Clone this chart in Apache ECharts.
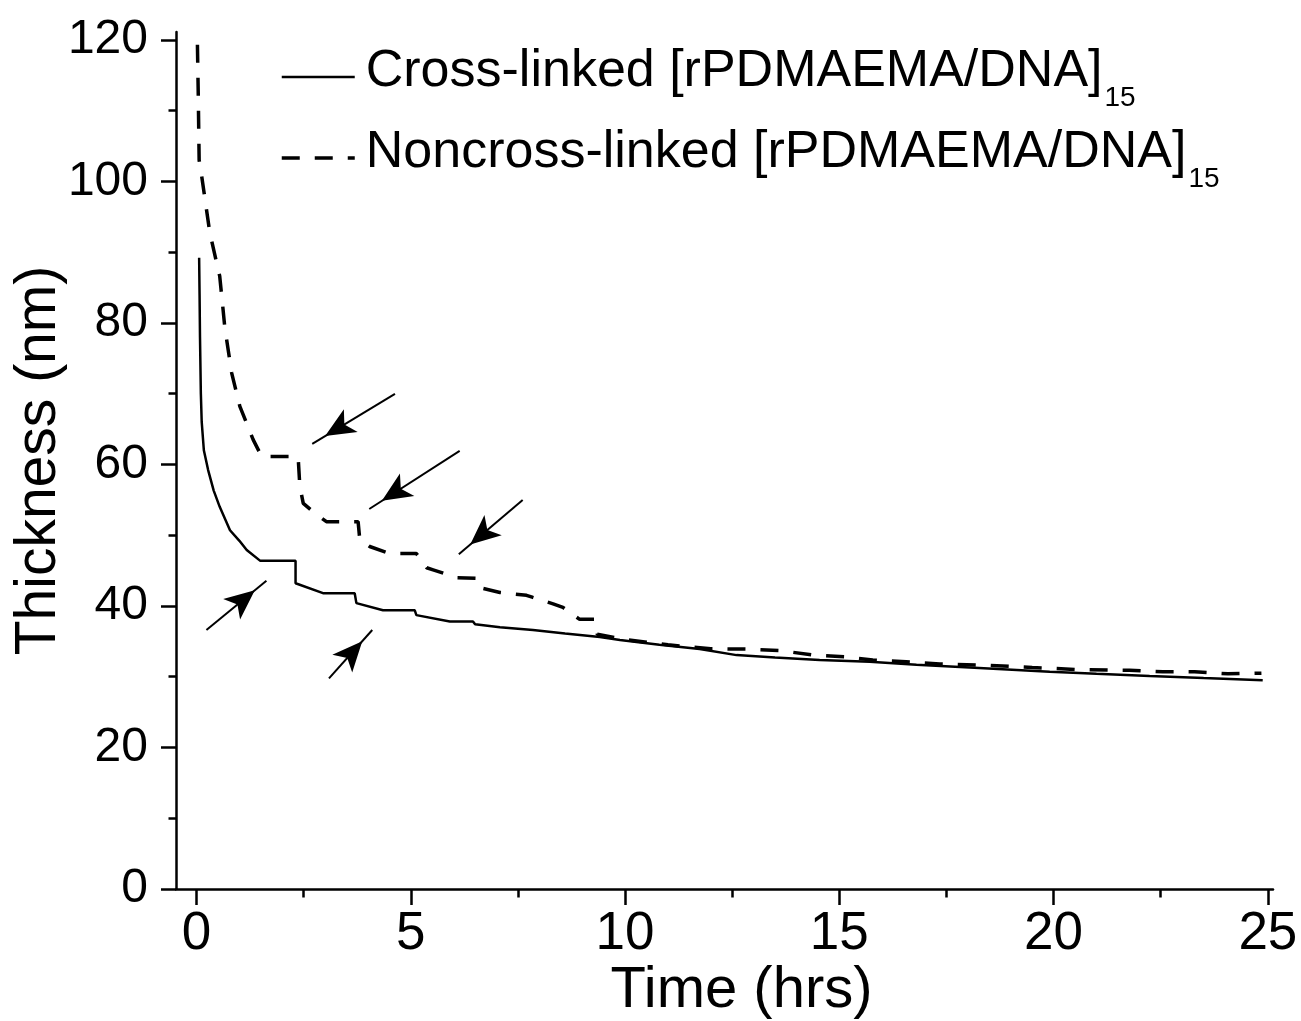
<!DOCTYPE html>
<html>
<head>
<meta charset="utf-8">
<title>Thickness vs time</title>
<script src="https://cdn.jsdelivr.net/npm/echarts@6/dist/echarts.min.js"></script>
<style>
  html, body { margin: 0; padding: 0; background: #fff; }
  #chart { width: 1301px; height: 1021px; }
</style>
</head>
<body>
<div id="chart"></div>
<script>
// cross-linked film (solid)
const crossTime = [0.06, 0.07, 0.08, 0.10, 0.12, 0.17, 0.27, 0.40, 0.54, 0.78, 1.0, 1.17, 1.48, 2.31, 2.31, 2.95, 3.69, 3.73, 4.35, 5.09, 5.13, 5.91, 6.45, 6.50, 7.08, 7.85, 8.6, 9.41, 9.88, 10.8, 11.74, 12.6, 13.5, 14.54, 15.71, 16.8, 18.04, 19.91, 21.0, 22.24, 23.5, 24.88];
const crossThick = [89.2, 84, 78, 70, 66, 62, 59.2, 56.3, 54.0, 50.7, 49.2, 47.9, 46.4, 46.4, 43.2, 41.8, 41.8, 40.4, 39.4, 39.4, 38.7, 37.8, 37.8, 37.4, 37.0, 36.6, 36.1, 35.6, 35.2, 34.5, 33.9, 33.05, 32.7, 32.35, 32.1, 31.7, 31.3, 30.7, 30.4, 30.1, 29.8, 29.5];

// noncross-linked film (dashed)
const noncrossTime = [0.02, 0.04, 0.06, 0.12, 0.31, 0.54, 0.60, 0.66, 0.82, 1.01, 1.32, 1.52, 2.37, 2.41, 2.49, 2.72, 3.03, 3.77, 3.81, 4.04, 4.51, 5.13, 5.37, 5.52, 6.07, 6.53, 6.59, 7.08, 7.7, 7.85, 8.32, 8.55, 8.94, 9.29, 9.35, 10.0, 11.0, 12.0, 12.83, 13.61, 14.39, 15.16, 15.78, 16.56, 17.34, 18.5, 19.5, 20.6, 21.77, 22.55, 23.29, 24.07, 24.85];
const noncrossThick = [119.3, 112, 103, 100.7, 92.7, 86.6, 83, 79.3, 72.9, 68.2, 63.5, 61.1, 61.1, 56.9, 54.5, 53.3, 51.9, 51.9, 49.3, 48.4, 47.4, 47.4, 45.4, 45.1, 44.0, 43.9, 42.6, 41.9, 41.5, 41.2, 40.3, 39.8, 38.1, 38.1, 36.0, 35.25, 34.5, 33.95, 33.9, 33.7, 33.05, 32.8, 32.35, 32.1, 31.8, 31.6, 31.3, 31.0, 30.9, 30.7, 30.7, 30.4, 30.5];

// ticks
const xTicks = [0, 5, 10, 15, 20, 25];
const xMinorTicks = [2.5, 7.5, 12.5, 17.5, 22.5];
const yTicks = [0, 20, 40, 60, 80, 100, 120];
const yMinorTicks = [10, 30, 50, 70, 90, 110];

// arrows (tail -> tip, data coords)
const arrowFrom = [[4.63, 69.97], [6.14, 61.9], [7.61, 54.98], [0.23, 36.6], [3.09, 29.76]];
const arrowTo = [[2.70, 62.9], [4.03, 53.7], [6.12, 47.3], [1.63, 43.56], [4.10, 36.6]];

const seriesNames = ['Cross-linked [rPDMAEMA/DNA]', 'Noncross-linked [rPDMAEMA/DNA]'];

const FONT = "'Liberation Sans', Arial, sans-serif";

const zip = (xs, ys) => xs.map((x, i) => [x, ys[i]]);

const chart = echarts.init(document.getElementById('chart'));

const axisLine = { show: true, onZero: false, lineStyle: { color: '#000', width: 2.5 } };
const solidStyle = { color: '#000', width: 2.5, type: 'solid' };
const dashStyle = { color: '#000', width: 3.5, type: [18, 15] };

const option = {
  backgroundColor: '#fff',
  animation: false,
  textStyle: { fontFamily: FONT, color: '#000' },
  grid: { left: 176, right: 28, top: 32, bottom: 132, outerBoundsMode: 'none' },
  legend: {
    orient: 'vertical',
    left: 280,
    top: 42,
    padding: 0,
    itemGap: 11,
    itemWidth: 73,
    itemHeight: 14,
    selectedMode: false,
    // hide the symbol dot, keep the line
    itemStyle: { color: 'rgba(0,0,0,0)', opacity: 0, borderWidth: 0 },
    data: [
      { name: seriesNames[0], lineStyle: solidStyle },
      { name: seriesNames[1], lineStyle: dashStyle }
    ],
    formatter: (name) => '{a|' + name + '}{s|15}',
    textStyle: {
      rich: {
        a: { fontSize: 52, lineHeight: 60, padding: [0, 0, 10, 6], color: '#000', fontFamily: FONT },
        s: { fontSize: 28, lineHeight: 28, padding: [42, 0, 0, 2], color: '#000', fontFamily: FONT }
      }
    }
  },
  xAxis: [
    {
      type: 'value',
      min: -0.48,
      max: 25.12,
      position: 'bottom',
      axisLine: axisLine,
      axisTick: { customValues: xTicks, length: 16, lineStyle: { color: '#000', width: 2.5 } },
      axisLabel: { customValues: xTicks, fontSize: 53, margin: 19, color: '#000', fontFamily: FONT },
      splitLine: { show: false },
      name: 'Time (hrs)',
      nameLocation: 'middle',
      nameGap: 73,
      nameMoveOverlap: false,
      nameTextStyle: { fontSize: 58, color: '#000', fontFamily: FONT, padding: [0, 0, 0, 34] }
    },
    {
      // minor ticks only
      type: 'value',
      min: -0.48,
      max: 25.12,
      position: 'bottom',
      axisLine: { show: false, onZero: false },
      axisTick: { customValues: xMinorTicks, length: 8.5, lineStyle: { color: '#000', width: 2.5 } },
      axisLabel: { show: false },
      splitLine: { show: false }
    }
  ],
  yAxis: [
    {
      type: 'value',
      min: 0,
      max: 121.1,
      position: 'left',
      axisLine: axisLine,
      axisTick: { customValues: yTicks, length: 15, lineStyle: { color: '#000', width: 2.5 } },
      axisLabel: { customValues: yTicks, fontSize: 48, margin: 28, color: '#000', fontFamily: FONT },
      splitLine: { show: false },
      name: 'Thickness (nm)',
      nameLocation: 'middle',
      nameGap: 108,
      nameMoveOverlap: false,
      nameTextStyle: { fontSize: 57, color: '#000', fontFamily: FONT }
    },
    {
      type: 'value',
      min: 0,
      max: 121.1,
      position: 'left',
      axisLine: { show: false, onZero: false },
      axisTick: { customValues: yMinorTicks, length: 7.5, lineStyle: { color: '#000', width: 2.5 } },
      axisLabel: { show: false },
      splitLine: { show: false }
    }
  ],
  series: [
    {
      name: seriesNames[0],
      type: 'line',
      symbol: 'none',
      showSymbol: false,
      color: '#000',
      lineStyle: solidStyle,
      data: zip(crossTime, crossThick),
      markLine: {
        silent: true,
        animation: false,
        symbol: ['none', 'arrow'],
        label: { show: false },
        lineStyle: { color: '#000', width: 2, type: 'solid' },
        emphasis: { disabled: true },
        data: arrowFrom.map((p, i) => [
          { coord: p, symbol: 'none' },
          { coord: arrowTo[i], symbol: 'arrow', symbolSize: [20, 30], symbolOffset: [0, 15] }
        ])
      }
    },
    {
      name: seriesNames[1],
      type: 'line',
      symbol: 'none',
      showSymbol: false,
      color: '#000',
      lineStyle: dashStyle,
      data: zip(noncrossTime, noncrossThick)
    }
  ]
};

chart.setOption(option);
</script>
</body>
</html>
